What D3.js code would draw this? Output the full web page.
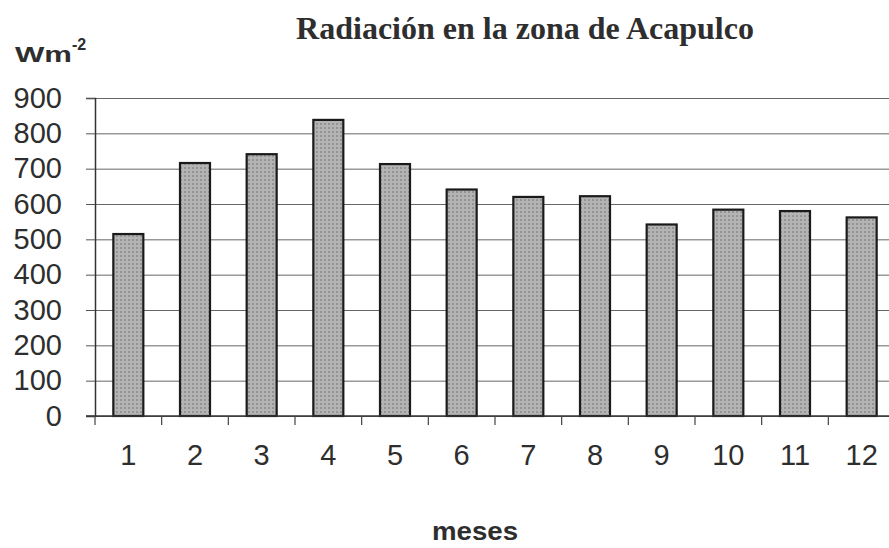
<!DOCTYPE html>
<html>
<head>
<meta charset="utf-8">
<script src="https://cdn.jsdelivr.net/npm/d3@7"></script>
<style>
  body { margin: 0; background: #fff; }
  svg text { fill: #2e2e2e; }
</style>
</head>
<body>
<svg id="chart" width="889" height="548"></svg>
<script>
// months and mean radiation (W m-2)
let months = ["1", "2", "3", "4", "5", "6", "7", "8", "9", "10", "11", "12"];
let radiation = [515, 716, 741, 838, 713, 641, 620, 622, 542, 584, 580, 562];
let yTicks = [0, 100, 200, 300, 400, 500, 600, 700, 800, 900];

let svg = d3.select('#chart');
let margin = { top: 98, left: 95, bottom: 132 };
let plotW = 800;
let plotH = 548 - margin.top - margin.bottom;

let x = d3.scaleBand().domain(months).range([0, plotW]).paddingInner(0.55).paddingOuter(0.275);
let y = d3.scaleLinear().domain([0, 900]).range([plotH, 0]);

// dotted gray fill like the scanned print
let defs = svg.append('defs');
let pat = defs.append('pattern')
  .attr('id', 'dots').attr('width', 4).attr('height', 4)
  .attr('patternUnits', 'userSpaceOnUse');
pat.append('rect').attr('width', 4).attr('height', 4).attr('fill', '#b4b4b4');
pat.append('circle').attr('cx', 2).attr('cy', 2).attr('r', 1).attr('fill', '#8a8a8a');

let g = svg.append('g').attr('transform', `translate(${margin.left},${margin.top})`);

// gridlines
g.append('g')
  .call(d3.axisLeft(y).tickValues(yTicks).tickSize(-plotW).tickFormat(''))
  .call(s => s.select('.domain').remove())
  .call(s => s.selectAll('line').attr('stroke', '#666').attr('stroke-width', 1));

// y axis
g.append('g')
  .call(d3.axisLeft(y).tickValues(yTicks).tickSize(9).tickPadding(24))
  .call(s => s.select('.domain').attr('stroke', '#333').attr('stroke-width', 1.5))
  .call(s => s.selectAll('line').attr('stroke', '#555'))
  .call(s => s.selectAll('text')
    .attr('font-family', 'Liberation Sans, Arial, sans-serif')
    .attr('font-size', 29).attr('fill', '#2e2e2e'));

// bars
g.selectAll('rect.bar')
  .data(radiation)
  .join('rect')
  .attr('class', 'bar')
  .attr('x', (d, i) => x(months[i]))
  .attr('y', d => y(d))
  .attr('width', x.bandwidth())
  .attr('height', d => plotH - y(d))
  .attr('fill', 'url(#dots)')
  .attr('stroke', '#1a1a1a')
  .attr('stroke-width', 2.2);

// x axis baseline with tick marks between categories
let xAxis = g.append('g').attr('transform', `translate(0,${plotH})`);
xAxis.append('line')
  .attr('x1', -9).attr('x2', plotW).attr('stroke', '#333').attr('stroke-width', 1.5);
xAxis.selectAll('line.tick')
  .data(months)
  .join('line')
  .attr('class', 'tick')
  .attr('x1', d => x(d) - x.step() * x.paddingInner() / 2)
  .attr('x2', d => x(d) - x.step() * x.paddingInner() / 2)
  .attr('y1', 0).attr('y2', 9)
  .attr('stroke', '#444').attr('stroke-width', 1.2);
xAxis.selectAll('text')
  .data(months)
  .join('text')
  .attr('x', d => x(d) + x.bandwidth() / 2)
  .attr('y', 49)
  .attr('text-anchor', 'middle')
  .attr('font-family', 'Liberation Sans, Arial, sans-serif')
  .attr('font-size', 29)
  .text(d => d);

// titles
svg.append('text')
  .attr('x', 525).attr('y', 39)
  .attr('text-anchor', 'middle')
  .attr('font-family', 'Liberation Serif, Times New Roman, serif')
  .attr('font-weight', 'bold').attr('font-size', 32)
  .text('Radiación en la zona de Acapulco');

let unit = svg.append('text')
  .attr('x', 15).attr('y', 62)
  .attr('font-family', 'Liberation Sans, Arial, sans-serif')
  .attr('font-weight', 'bold').attr('font-size', 22);
unit.append('tspan').attr('textLength', 57).attr('lengthAdjust', 'spacingAndGlyphs').text('Wm');
unit.append('tspan').attr('dy', -12).attr('font-size', 16).text('-2');

svg.append('text')
  .attr('x', 475).attr('y', 540)
  .attr('text-anchor', 'middle')
  .attr('font-family', 'Liberation Sans, Arial, sans-serif')
  .attr('font-weight', 'bold').attr('font-size', 26)
  .attr('textLength', 86).attr('lengthAdjust', 'spacingAndGlyphs')
  .text('meses');
</script>
</body>
</html>
